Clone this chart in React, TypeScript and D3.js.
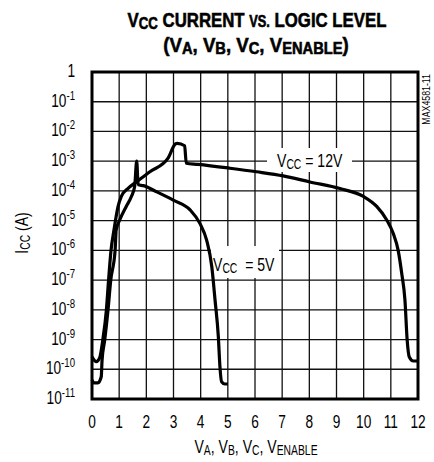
import React from 'react';
import * as d3 from 'd3';

// axis ticks
const X_TICKS = [0, 1, 2, 3, 4, 5, 6, 7, 8, 9, 10, 11, 12];
const Y_TICKS = [1, 1e-1, 1e-2, 1e-3, 1e-4, 1e-5, 1e-6, 1e-7, 1e-8, 1e-9, 1e-10, 1e-11];
const Y_TICK_EXP = ['', '-1', '-2', '-3', '-4', '-5', '-6', '-7', '-8', '-9', '-10', '-11'];

// VCC = 12V curve (volts, amps)
const V_12 = [0, 0.16, 0.28, 0.4, 0.53, 0.61, 0.7, 0.81, 0.96, 1.08, 1.32, 1.63, 2.13, 2.8, 3.07, 3.14, 3.41, 3.47, 3.9, 5.08, 6.06, 7.04, 8.02, 9.13, 9.99, 10.48, 10.85, 11.09, 11.27, 11.4, 11.52, 11.6, 11.68, 11.83, 12];
const I_12 = [2.6e-10, 1.8e-10, 2.4e-10, 1e-9, 1e-8, 1e-7, 1e-6, 4.9e-6, 3e-5, 6.5e-5, 1.2e-4, 2e-4, 4.4e-4, 1.26e-3, 3.8e-3, 4e-3, 3.3e-3, 8.5e-4, 7.8e-4, 5.8e-4, 4.4e-4, 3.2e-4, 2e-4, 1.2e-4, 6.5e-5, 3e-5, 1.05e-5, 3.7e-6, 1e-6, 1.7e-7, 2.1e-8, 1e-9, 2.6e-10, 1.9e-10, 1.9e-10];

// VCC = 5V curve
const V_5 = [0, 0.07, 0.22, 0.34, 0.37, 0.47, 0.59, 0.69, 0.85, 0.89, 1.02, 1.26, 1.45, 1.57, 1.645, 1.7, 1.89, 2.38, 2.99, 3.61, 3.97, 4.22, 4.41, 4.53, 4.65, 4.71, 4.77, 4.89, 5];
const I_5 = [4.4e-11, 3.5e-11, 3.5e-11, 5.6e-11, 2e-10, 1e-9, 1e-8, 1e-7, 1e-6, 4.9e-6, 1.05e-5, 3e-5, 6.5e-5, 1.4e-4, 1e-3, 1.6e-4, 1.5e-4, 9.3e-5, 4.9e-5, 2.3e-5, 8.1e-6, 2.2e-6, 2.8e-7, 2.1e-8, 1.26e-9, 1.2e-10, 3.8e-11, 3.2e-11, 3.2e-11];

const FONT = "'Liberation Sans', Arial, sans-serif";

const T = ({ x, y, sx = 0.74, rot = 0, anchor = 'start', size = 17, weight = 'normal', heavy = 0, children }: any) => (
  <g transform={`translate(${x},${y})${rot ? ` rotate(${rot})` : ''} scale(${sx},1)`}>
    <text textAnchor={anchor} fontSize={size} fontWeight={weight} fontFamily={FONT} fill="#000"
      stroke={heavy ? '#000' : 'none'} strokeWidth={heavy}>
      {children}
    </text>
  </g>
);

const App = () => {
  const width = 434;
  const height = 462;
  const left = 92, right = 418, top = 72, bottom = 399;

  const x = d3.scaleLinear().domain([0, 12]).range([left, right]);
  const y = d3.scaleLog().domain([1e-11, 1]).range([bottom, top]);

  const line = d3.line<[number, number]>()
    .x(d => x(d[0]))
    .y(d => y(d[1]))
    .curve(d3.curveMonotoneX);

  const d12 = line(V_12.map((v, i) => [v, I_12[i]] as [number, number]))!;
  const d5 = line(V_5.map((v, i) => [v, I_5[i]] as [number, number]))!;

  return (
    <svg width={width} height={height} style={{ position: 'absolute', left: 0, top: 0, background: '#fff' }}>
      {/* title */}
      <T x={257} y={27} size={21} weight="bold" sx={0.8} anchor="middle" heavy={0.6}>
        <tspan>V</tspan>
        <tspan fontSize={16.5} dy={2}>CC</tspan>
        <tspan dy={-2}> CURRENT </tspan>
        <tspan fontSize={16}>VS.</tspan>
        <tspan> LOGIC LEVEL</tspan>
      </T>
      <T x={256} y={52} size={21} weight="bold" sx={0.89} anchor="middle" heavy={0.6}>
        <tspan>(V</tspan>
        <tspan fontSize={16.5} dy={2}>A</tspan>
        <tspan dy={-2}>, V</tspan>
        <tspan fontSize={16.5} dy={2}>B</tspan>
        <tspan dy={-2}>, V</tspan>
        <tspan fontSize={16.5} dy={2}>C</tspan>
        <tspan dy={-2}>, V</tspan>
        <tspan fontSize={16.5} dy={2}>ENABLE</tspan>
        <tspan dy={-2}>)</tspan>
      </T>

      {/* grid */}
      {X_TICKS.map(t => (
        <line key={'gx' + t} x1={x(t)} x2={x(t)} y1={top} y2={bottom} stroke="#111" strokeWidth={1.3} />
      ))}
      {Y_TICKS.map(t => (
        <line key={'gy' + t} x1={left} x2={right} y1={y(t)} y2={y(t)} stroke="#111" strokeWidth={1.3} />
      ))}

      {/* label backgrounds */}
      <rect x={267} y={148} width={85} height={24} fill="#fff" />
      <rect x={211} y={246} width={68} height={32} fill="#fff" />

      {/* curves */}
      <path d={d12} fill="none" stroke="#000" strokeWidth={3.2} strokeLinejoin="round" />
      <path d={d5} fill="none" stroke="#000" strokeWidth={3.2} strokeLinejoin="round" />

      {/* frame */}
      <rect x={left} y={top} width={right - left} height={bottom - top} fill="none" stroke="#000" strokeWidth={3} />

      {/* curve labels */}
      <T x={277} y={167} size={19}>
        <tspan>V</tspan>
        <tspan fontSize={14} dy={2}>CC</tspan>
        <tspan dy={-2}> = 12V</tspan>
      </T>
      <T x={213} y={271} size={19}>
        <tspan>V</tspan>
        <tspan fontSize={14} dy={2}>CC</tspan>
        <tspan dy={-2}>{'\u00a0\u00a0= 5V'}</tspan>
      </T>

      {/* y tick labels */}
      {Y_TICKS.map((t, i) => (
        <T key={'ty' + t} x={75} y={y(t) + 5} size={18.5} anchor="end">
          {i === 0 ? <tspan>1</tspan> : (
            <>
              <tspan>10</tspan>
              <tspan fontSize={13} dy={-7}>{Y_TICK_EXP[i]}</tspan>
            </>
          )}
        </T>
      ))}

      {/* x tick labels */}
      {X_TICKS.map(t => (
        <T key={'tx' + t} x={x(t)} y={428} size={18.5} anchor="middle">{t}</T>
      ))}

      {/* axis titles */}
      <T x={256} y={453} size={19} anchor="middle">
        <tspan>V</tspan>
        <tspan fontSize={14} dy={2}>A</tspan>
        <tspan dy={-2}>, V</tspan>
        <tspan fontSize={14} dy={2}>B</tspan>
        <tspan dy={-2}>, V</tspan>
        <tspan fontSize={14} dy={2}>C</tspan>
        <tspan dy={-2}>, V</tspan>
        <tspan fontSize={14} dy={2}>ENABLE</tspan>
      </T>
      <T x={28} y={233} size={19} rot={-90} anchor="middle">
        <tspan>I</tspan>
        <tspan fontSize={14} dy={2}>CC</tspan>
        <tspan dy={-2}> (A)</tspan>
      </T>

      {/* figure code */}
      <T x={430} y={74} size={11} rot={-90} anchor="end" sx={0.8}>MAX4581-11</T>
    </svg>
  );
};

export default App;
